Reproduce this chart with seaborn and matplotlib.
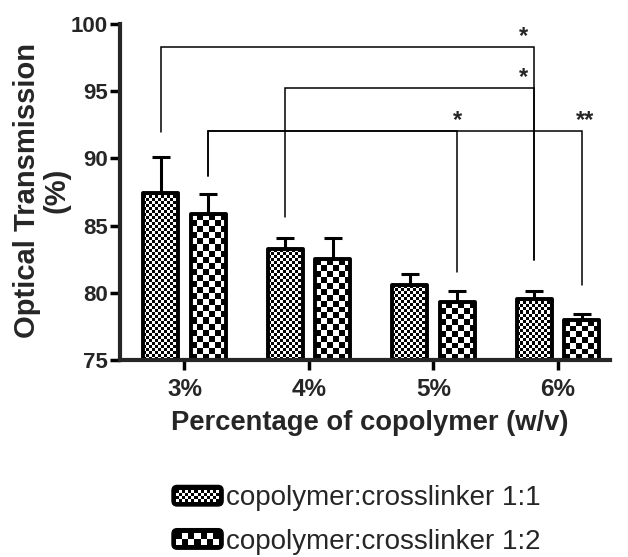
import numpy as np
import pandas as pd
import matplotlib
matplotlib.use("Agg")
import matplotlib.pyplot as plt
import seaborn as sns
from matplotlib.legend_handler import HandlerBase
from matplotlib.patches import FancyBboxPatch, Rectangle, Patch

# ---------------- data ----------------
categories = ["3%", "4%", "5%", "6%"]
ratios = ["copolymer:crosslinker 1:1", "copolymer:crosslinker 1:2"]
trans_11 = [87.45, 83.25, 80.55, 79.55]
trans_12 = [85.85, 82.50, 79.30, 77.95]
err_11 = [2.65, 0.85, 0.85, 0.60]
err_12 = [1.50, 1.60, 0.85, 0.45]
yticks = [75, 80, 85, 90, 95, 100]

# significance comparisons: (from bar, to bar, from-leg bottom, bracket top, to-leg bottom, label, label dx)
comparisons = [
    (("3%", 0), ("6%", 0), 91.99, 98.31, 82.44, "*", -0.09),
    (("4%", 0), ("6%", 0), 85.66, 95.26, 82.44, "*", -0.09),
    (("3%", 1), ("5%", 1), 88.68, 92.04, 81.53, "*", 0.0),
    (("3%", 1), ("6%", 1), 88.68, 92.04, 80.58, "**", 0.03),
]

# ---------------- style ----------------
sns.set_style("ticks")
plt.rcParams["font.family"] = ["Liberation Sans", "DejaVu Sans"]

W, H = 628, 557
fig = plt.figure(figsize=(W / 100, H / 100), dpi=100)
ax = fig.add_axes([120 / W, 1 - 360 / H, 490 / W, 336 / H])

df = pd.DataFrame({
    "pct": categories * 2,
    "ratio": [ratios[0]] * 4 + [ratios[1]] * 4,
    "value": trans_11 + trans_12,
})

sns.barplot(data=df, x="pct", y="value", hue="ratio", order=categories,
            hue_order=ratios, width=0.76, gap=0.26,
            palette=["white", "white"], edgecolor="black", linewidth=2.8,
            errorbar=None, legend=False, ax=ax)

XLIM = (-0.518, 3.418)
YLIM = (75, 100)
ax.set_xlim(*XLIM)
ax.set_ylim(*YLIM)

bars = sorted([p for p in ax.patches], key=lambda p: p.get_x())
# interleaved order: 3%-1:1, 3%-1:2, 4%-1:1, ...
vals = [v for pair in zip(trans_11, trans_12) for v in pair]
errs = [e for pair in zip(err_11, err_12) for e in pair]
centers = {}
for k, p in enumerate(bars):
    cat = categories[k // 2]
    hue = k % 2
    centers[(cat, hue)] = p.get_x() + p.get_width() / 2


def checker_fill(patch, cell_px):
    x0 = patch.get_x()
    w = patch.get_width()
    top = patch.get_y() + patch.get_height()
    bottom = YLIM[0]
    px0, py0 = ax.transData.transform((x0, bottom))
    px1, py1 = ax.transData.transform((x0 + w, top))
    ncols = max(1, int(round(abs(px1 - px0) / cell_px)))
    nrows = max(1, int(round(abs(py1 - py0) / cell_px)))
    arr = np.add.outer(np.arange(nrows), np.arange(ncols)) % 2
    im = ax.imshow(arr, extent=(x0, x0 + w, bottom, top), origin="lower",
                   cmap="gray", vmin=0, vmax=1, interpolation="nearest",
                   aspect="auto", zorder=1)
    im.set_clip_path(patch)


for k, p in enumerate(bars):
    p.set_facecolor("none")
    p.set_zorder(2)
    p.set_joinstyle("round")
    checker_fill(p, 3.0 if k % 2 == 0 else 6.0)

xs = [p.get_x() + p.get_width() / 2 for p in bars]
ax.errorbar(xs, vals, yerr=[np.zeros(len(errs)), errs], fmt="none",
            ecolor="black", elinewidth=2.2, capsize=6.5, capthick=2.2, zorder=3)

# significance brackets
for a, b, ya, ytop, yb, lab, dx in comparisons:
    xa, xb = centers[a], centers[b]
    ax.plot([xa, xa, xb, xb], [ya, ytop, ytop, yb], color="black", lw=1.1,
            zorder=1.5, solid_joinstyle="miter", clip_on=False)
    ax.text(xb + dx, ytop + 0.3, lab, ha="center", va="baseline",
            fontsize=17, fontweight="bold", clip_on=False)

ax.set_xlim(*XLIM)
ax.set_ylim(*YLIM)
ax.set_yticks(yticks)

sns.despine(ax=ax)
for s in ["left", "bottom"]:
    ax.spines[s].set_linewidth(3.0)
ax.tick_params(axis="both", direction="out", length=7, width=2.5, color="black")
ax.tick_params(axis="y", labelsize=16, pad=2)
ax.tick_params(axis="x", labelsize=17.5, pad=6)
for t in ax.get_xticklabels() + ax.get_yticklabels():
    t.set_fontweight("bold")

ax.set_xlabel("Percentage of copolymer (w/v)", fontsize=19.7, fontweight="bold")
ax.xaxis.set_label_coords(0.509, -0.15)
ax.set_ylabel("Optical Transmission\n(%)", fontsize=21, fontweight="bold",
              linespacing=1.1)
ax.yaxis.set_label_coords(-0.1, 0.505)


class CheckerHandler(HandlerBase):
    def __init__(self, ncols, nrows):
        super().__init__()
        self.ncols = ncols
        self.nrows = nrows

    def create_artists(self, legend, orig_handle, xdescent, ydescent,
                       width, height, fontsize, trans):
        x0, y0 = -xdescent, -ydescent
        box = FancyBboxPatch((x0, y0), width, height,
                             boxstyle=f"round,pad=0,rounding_size={height * 0.25}",
                             fc="black", ec="black", lw=1, transform=trans)
        arts = [box]
        inset = height * 0.2
        iw, ih = width - 2 * inset, height - 2 * inset
        cw, ch = iw / self.ncols, ih / self.nrows
        for i in range(self.nrows):
            for j in range(self.ncols):
                if (i + j) % 2 == 0:
                    arts.append(Rectangle((x0 + inset + j * cw, y0 + inset + i * ch),
                                          cw, ch, fc="white", ec="none",
                                          transform=trans))
        return arts


h1 = Patch(facecolor="white", edgecolor="black")
h2 = Patch(facecolor="white", edgecolor="black")
fig.legend([h1, h2], ratios, loc="center left",
           bbox_to_anchor=(172 / W, 1 - 520 / H), frameon=False,
           fontsize=20, handlelength=1.84, handleheight=0.76,
           handletextpad=0.12, labelspacing=0.62, borderpad=0,
           borderaxespad=0,
           handler_map={h1: CheckerHandler(14, 4), h2: CheckerHandler(7, 2)})

fig.savefig("out.png", dpi=100)
